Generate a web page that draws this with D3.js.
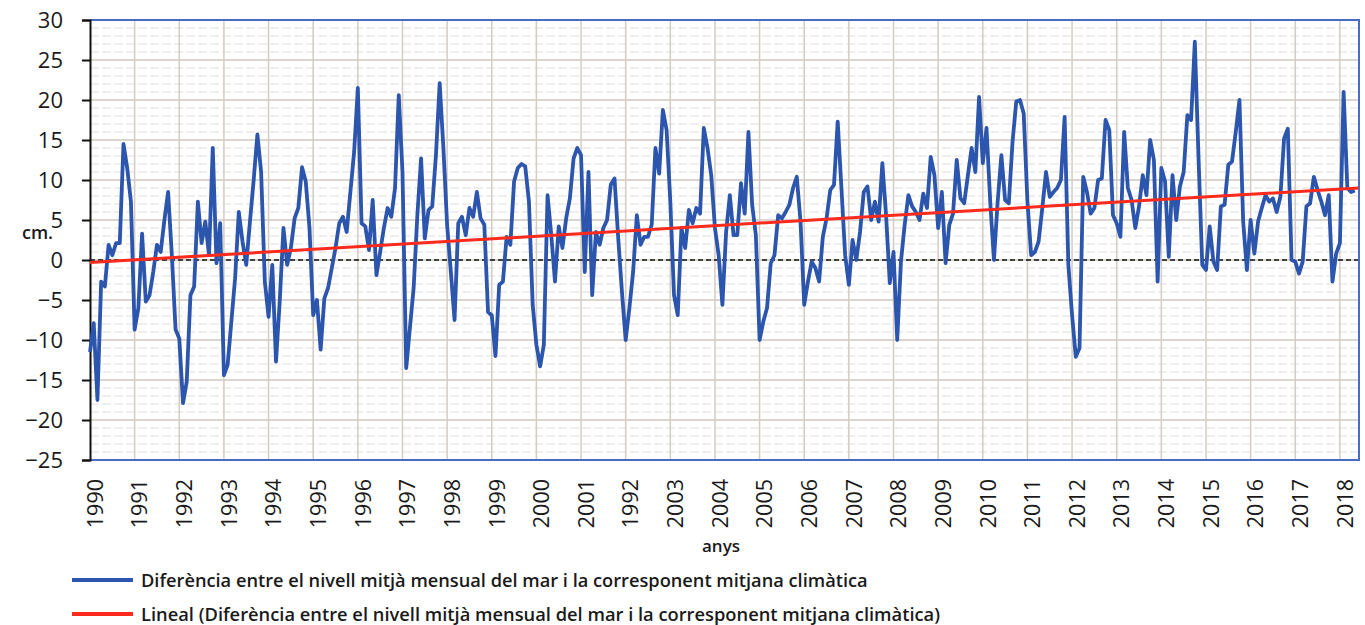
<!DOCTYPE html>
<html>
<head>
<meta charset="utf-8">
<script src="https://cdn.jsdelivr.net/npm/d3@7"></script>
<style>
  body { margin: 0; background: #fff; }
  svg { display: block; font-family: "Open Sans", "Noto Sans", sans-serif; }
</style>
</head>
<body>
<svg id="chart" width="1365" height="625"></svg>
<script>
// year labels (the original repeats "1992" after 2001)
const yearLabels = ["1990", "1991", "1992", "1993", "1994", "1995", "1996", "1997", "1998", "1999",
    "2000", "2001", "1992", "2003", "2004", "2005", "2006", "2007", "2008", "2009",
    "2010", "2011", "2012", "2013", "2014", "2015", "2016", "2017", "2018"];

// monthly difference (cm), Jan 1990 onwards
const seaLevel = [
    -11.5, -7.9, -17.5, -2.7, -3.3, 1.9, 0.6, 2.1, 2.1, 14.5, 11.5, 7.3,      // 1990
    -8.7, -6, 3.3, -5.2, -4.4, -1.5, 1.9, 1, 5, 8.5, 0.6, -8.7,               // 1991
    -9.8, -17.9, -15.2, -4.4, -3.3, 7.3, 2.1, 4.8, 0.6, 14, -0.4, 4.6,        // 1992
    -14.4, -13.1, -7.7, -2.3, 6, 2.3, -0.6, 4.8, 10, 15.7, 11, -2.7,          // 1993
    -7.1, -0.6, -12.7, -5.2, 4, -0.6, 1.5, 5.2, 6.5, 11.6, 9.8, 4,            // 1994
    -6.9, -5, -11.2, -4.8, -3.5, -1, 1.5, 4.6, 5.4, 3.5, 8.5, 13.5,           // 1995
    21.5, 4.6, 4.2, 1.25, 7.5, -1.9, 1, 4, 6.5, 5.4, 9, 20.6,                 // 1996
    11, -13.5, -8.5, -3.5, 5.6, 12.7, 2.7, 6.25, 6.7, 13.1, 22.1, 14,         // 1997
    4.4, -1.5, -7.5, 4.6, 5.4, 3.1, 6.5, 5.4, 8.5, 5.2, 4.4, -6.5,            // 1998
    -6.9, -12, -3.1, -2.7, 2.9, 1.9, 9.8, 11.5, 12, 11.7, 7.3, -5.6,          // 1999
    -10.6, -13.3, -10.6, 8.1, 3.1, -2.7, 4.2, 1.5, 5.2, 7.7, 12.7, 14,        // 2000
    13.1, -1.5, 11, -4.4, 3.5, 1.9, 4, 5, 9.4, 10.2, 2.7, -4,                 // 2001
    -10, -6, -1.5, 5.6, 1.9, 2.9, 2.9, 4.4, 14, 10.8, 18.75, 16.25,           // 2002
    7.3, -4.4, -6.9, 4, 1.5, 6.25, 4.6, 6.5, 5.8, 16.5, 14, 10.6,             // 2003
    4, 0.6, -5.6, 3.5, 8.1, 3.1, 3.1, 9.6, 5.8, 16, 6.9, 3.1,                 // 2004
    -10, -7.7, -6, -0.4, 0.6, 5.6, 5.2, 6, 6.9, 9, 10.4, 4.8,                 // 2005
    -5.6, -2.7, -0.2, -1, -2.7, 2.9, 5.2, 8.75, 9.4, 17.3, 9, 0.6,            // 2006
    -3.1, 2.5, 0, 3.5, 8.5, 9.2, 5, 7.3, 4.8, 12.1, 5.6, -2.9,                // 2007
    1, -10, -0.2, 4.4, 8.1, 6.7, 6, 5, 8.3, 6.5, 12.9, 10.6,                  // 2008
    4, 8.5, -0.4, 4.4, 5.8, 12.5, 7.7, 7.1, 10.6, 14, 11, 20.4,               // 2009
    12.1, 16.5, 7.3, 0, 7.3, 13.1, 7.5, 7.1, 14.8, 19.8, 20, 18.3,            // 2010
    7.3, 0.6, 1, 2.3, 6.5, 11, 7.9, 8.5, 9, 10, 17.9, -0.6,                   // 2011
    -6.9, -12.1, -11, 10.4, 8.5, 5.8, 6.5, 10, 10.2, 17.5, 16.25, 5.6,        // 2012
    4.6, 2.9, 16, 9, 7.5, 4, 6.7, 10.6, 8.1, 15, 12.5, -2.7,                  // 2013
    11.5, 9.8, 0.4, 10.6, 5, 9.2, 11, 18.1, 17.5, 27.3, 12.7, -0.6,           // 2014
    -1.25, 4.2, -0.2, -1.25, 6.7, 6.9, 11.9, 12.3, 16, 20, 4.8, -1.25,        // 2015
    5, 0.8, 4.8, 6.5, 8.1, 7.3, 7.7, 6, 7.9, 15.2, 16.4, 0,                   // 2016
    -0.2, -1.7, -0.2, 6.7, 7.1, 10.4, 8.75, 7.3, 5.6, 8.1, -2.7, 0.8,         // 2017
    2.1, 21, 9, 8.5, 8.7                                                      // 2018
];

// linear trend end points (month index, cm)
const trendMonths = [0, 341];
const trendValues = [-0.3, 9.0];

const yTicks = [-25, -20, -15, -10, -5, 0, 5, 10, 15, 20, 25, 30];

const legendItems = [
    {label: "Diferència entre el nivell mitjà mensual del mar i la corresponent mitjana climàtica", color: "#2c55ad", width: 727},
    {label: "Lineal (Diferència entre el nivell mitjà mensual del mar i la corresponent mitjana climàtica)", color: "#fb2a1c", width: 800}
];

const svg = d3.select("#chart");
const plotLeft = 90, plotRight = 1359, plotTop = 20, plotBottom = 460;

const x = d3.scaleLinear().domain([0, 341]).range([plotLeft, plotRight - 0.5]);
const y = d3.scaleLinear().domain([-25, 30]).range([plotBottom, plotTop]);

// minor horizontal gridlines (every 1 cm)
svg.append("g")
    .selectAll("line")
    .data(d3.range(-24, 30).filter(v => v % 5 !== 0))
    .join("line")
    .attr("x1", plotLeft).attr("x2", plotRight)
    .attr("y1", d => y(d)).attr("y2", d => y(d))
    .attr("stroke", "#e2ddd8")
    .attr("stroke-width", 1)
    .attr("stroke-dasharray", "9,3");

// major horizontal gridlines
svg.append("g")
    .selectAll("line")
    .data(yTicks.filter(v => v > -25 && v < 30))
    .join("line")
    .attr("x1", plotLeft).attr("x2", plotRight)
    .attr("y1", d => y(d)).attr("y2", d => y(d))
    .attr("stroke", "#cfc7bf")
    .attr("stroke-width", 1.5);

// vertical year gridlines
svg.append("g")
    .selectAll("line")
    .data(yearLabels.slice(1).map((d, i) => (i + 1) * 12))
    .join("line")
    .attr("x1", d => x(d)).attr("x2", d => x(d))
    .attr("y1", plotTop).attr("y2", plotBottom)
    .attr("stroke", "#d3ccc4")
    .attr("stroke-width", 1.5);

// zero line
svg.append("line")
    .attr("x1", plotLeft).attr("x2", plotRight)
    .attr("y1", y(0)).attr("y2", y(0))
    .attr("stroke", "#111")
    .attr("stroke-width", 1.5)
    .attr("stroke-dasharray", "5,3");

// frame: blue top, bottom, right
svg.append("path")
    .attr("d", `M${plotLeft},${plotTop}H${plotRight}V${plotBottom}H${plotLeft}`)
    .attr("fill", "none")
    .attr("stroke", "#4a6cc4")
    .attr("stroke-width", 2);

// y axis
const yAxis = svg.append("g")
    .attr("transform", `translate(${plotLeft},0)`)
    .call(d3.axisLeft(y).tickValues(yTicks).tickSize(8).tickPadding(19));
yAxis.select(".domain").attr("stroke", "#111").attr("stroke-width", 2);
yAxis.selectAll(".tick line").attr("stroke", "#111").attr("stroke-width", 2);
yAxis.selectAll("text")
    .attr("font-family", "'Open Sans', sans-serif")
    .attr("font-size", 22)
    .attr("fill", "#1a1a1a");

// year labels
svg.append("g")
    .selectAll("text")
    .data(yearLabels)
    .join("text")
    .attr("transform", (d, i) => `translate(${x(i * 12) + 5},479) rotate(-90)`)
    .attr("text-anchor", "end")
    .attr("dy", "0.36em")
    .attr("font-size", 21.5)
    .attr("fill", "#1a1a1a")
    .text(d => d);

// series
svg.append("path")
    .datum(seaLevel)
    .attr("fill", "none")
    .attr("stroke", "#2c55ad")
    .attr("stroke-width", 3.8)
    .attr("stroke-linejoin", "round")
    .attr("d", d3.line().x((d, i) => x(i)).y(d => y(d)));

// linear trend
svg.append("path")
    .datum(trendValues)
    .attr("fill", "none")
    .attr("stroke", "#fb2a1c")
    .attr("stroke-width", 3)
    .attr("d", d3.line().x((d, i) => x(trendMonths[i])).y(d => y(d)));

// axis titles
svg.append("text")
    .attr("x", 22).attr("y", 239)
    .attr("font-size", 18).attr("font-weight", 600)
    .attr("fill", "#1a1a1a")
    .text("cm.");

svg.append("text")
    .attr("x", 721).attr("y", 552)
    .attr("text-anchor", "middle")
    .attr("font-size", 17).attr("font-weight", 600)
    .attr("fill", "#1a1a1a")
    .text("anys");

// legend
const legend = svg.append("g")
    .selectAll("g")
    .data(legendItems)
    .join("g")
    .attr("transform", (d, i) => `translate(72,${580 + i * 34})`);

legend.append("line")
    .attr("x1", 0).attr("x2", 61)
    .attr("stroke", d => d.color)
    .attr("stroke-width", 4);

legend.append("text")
    .attr("x", 69).attr("dy", "0.36em")
    .attr("font-size", 18).attr("font-weight", 600)
    .attr("fill", "#1a1a1a")
    .text(d => d.label)
    .each(function(d) {
        const len = this.getComputedTextLength();
        d3.select(this).attr("font-size", 18 * d.width / len);
    });
</script>
</body>
</html>
